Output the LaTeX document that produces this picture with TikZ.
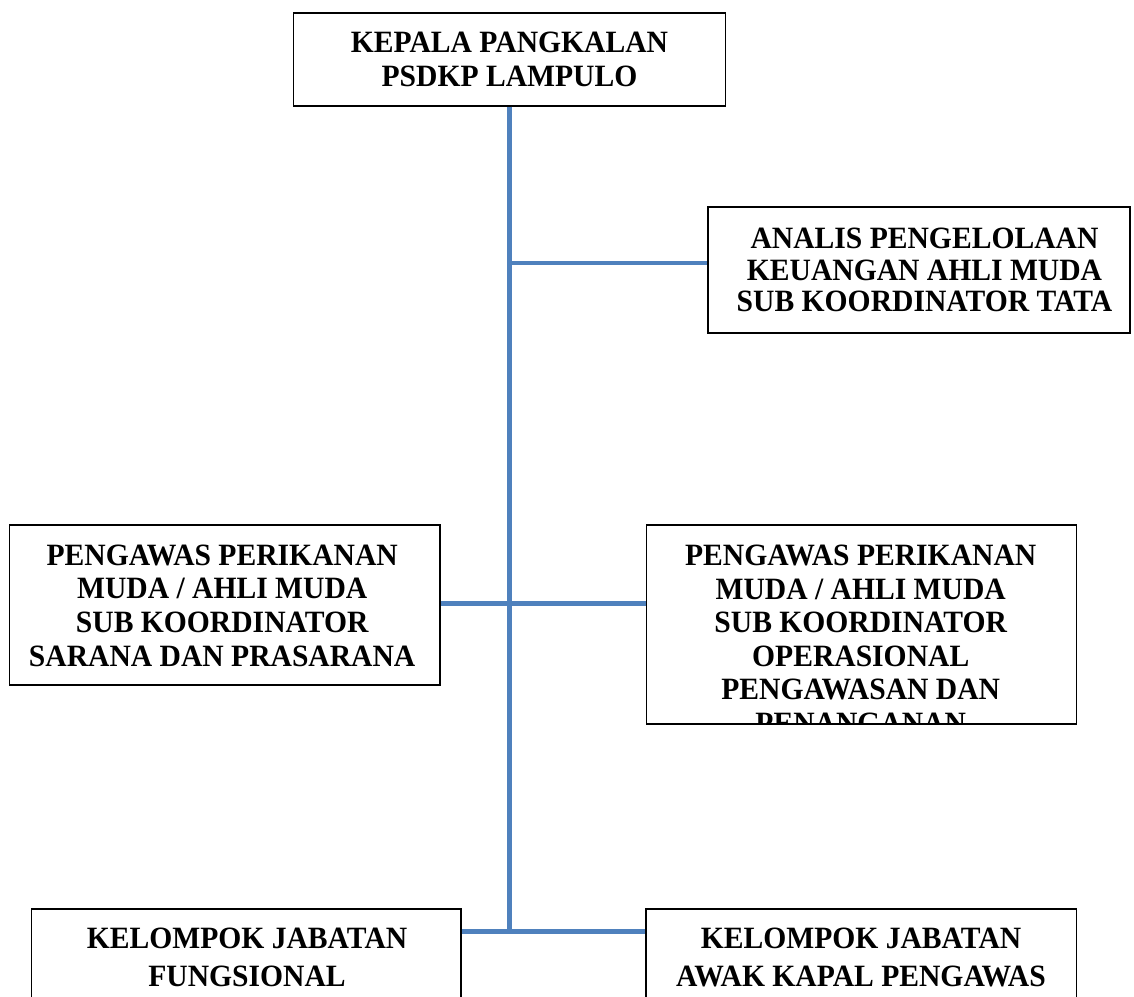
\documentclass[tikz,border=0pt]{standalone}
\usepackage{fontspec}
\setmainfont{Liberation Serif}[FakeStretch=0.955]
\definecolor{trunkblue}{HTML}{4F81BD}
\tikzset{
  box/.style={draw=black, line width=1.5pt, rectangle, inner sep=0pt},
  conn/.style={draw=trunkblue, line width=4.8pt},
  txt/.style={anchor=north, inner sep=0pt, align=center, font=\bfseries\fontsize{31}{#1}\selectfont},
}
\begin{document}
\begin{tikzpicture}[x=1pt, y=-1pt]
\useasboundingbox (0,0) rectangle (1134,996);
\clip (0,0) rectangle (1134,996);

% boxes
\node[box, minimum width=432pt, minimum height=93pt] (top) at (509.5,59.3) {};
\node[box, minimum width=422pt, minimum height=126pt] (an) at (919,270) {};
\node[box, minimum width=430.5pt, minimum height=160pt] (lm) at (224.75,605) {};
\node[box, minimum width=430pt, minimum height=199pt] (rm) at (861.7,624.5) {};
\node[box, minimum width=429.6pt, minimum height=101pt] (bl) at (246.2,959.5) {};
\node[box, minimum width=430.5pt, minimum height=101pt] (br) at (861.25,959.5) {};

% junctions
\coordinate (ja) at (509.5,263);
\coordinate (jm) at (509.5,603.3);
\coordinate (jb) at (509.5,931.5);

% connectors
\draw[conn] (top.south) -- ([yshift=-2.4pt]jb);
\draw[conn] (ja) -- (ja -| an.west);
\draw[conn] (lm.east |- jm) -- (rm.west |- jm);
\draw[conn] (bl.east |- jb) -- (br.west |- jb);

% texts
\begin{scope}
\clip (top.south west) rectangle (top.north east);
\node[txt=34pt] (ttop) at (509.5,31.5) {KEPALA PANGKALAN\\PSDKP LAMPULO};
\end{scope}
\begin{scope}
\clip (an.south west) rectangle (an.north east);
\node[txt=31.5pt] (tan) at (924.5,228) {ANALIS PENGELOLAAN\\KEUANGAN AHLI MUDA\\SUB KOORDINATOR TATA};
\end{scope}
\begin{scope}
\clip (lm.south west) rectangle (lm.north east);
\node[txt=33.7pt] (tlm) at (222.2,544.3) {PENGAWAS PERIKANAN\\MUDA / AHLI MUDA\\SUB KOORDINATOR\\SARANA DAN PRASARANA};
\end{scope}
\begin{scope}
\clip (rm.south west) rectangle (rm.north east);
\node[txt=33.5pt] (trm) at (860.7,545) {PENGAWAS PERIKANAN\\MUDA / AHLI MUDA\\SUB KOORDINATOR\\OPERASIONAL\\PENGAWASAN DAN\\PENANGANAN};
\end{scope}
\node[txt=37.5pt] (tbl) at (247,928) {KELOMPOK JABATAN\\FUNGSIONAL};
\node[txt=37.5pt] (tbr) at (861,928) {KELOMPOK JABATAN\\AWAK KAPAL PENGAWAS};
\end{tikzpicture}
\end{document}
